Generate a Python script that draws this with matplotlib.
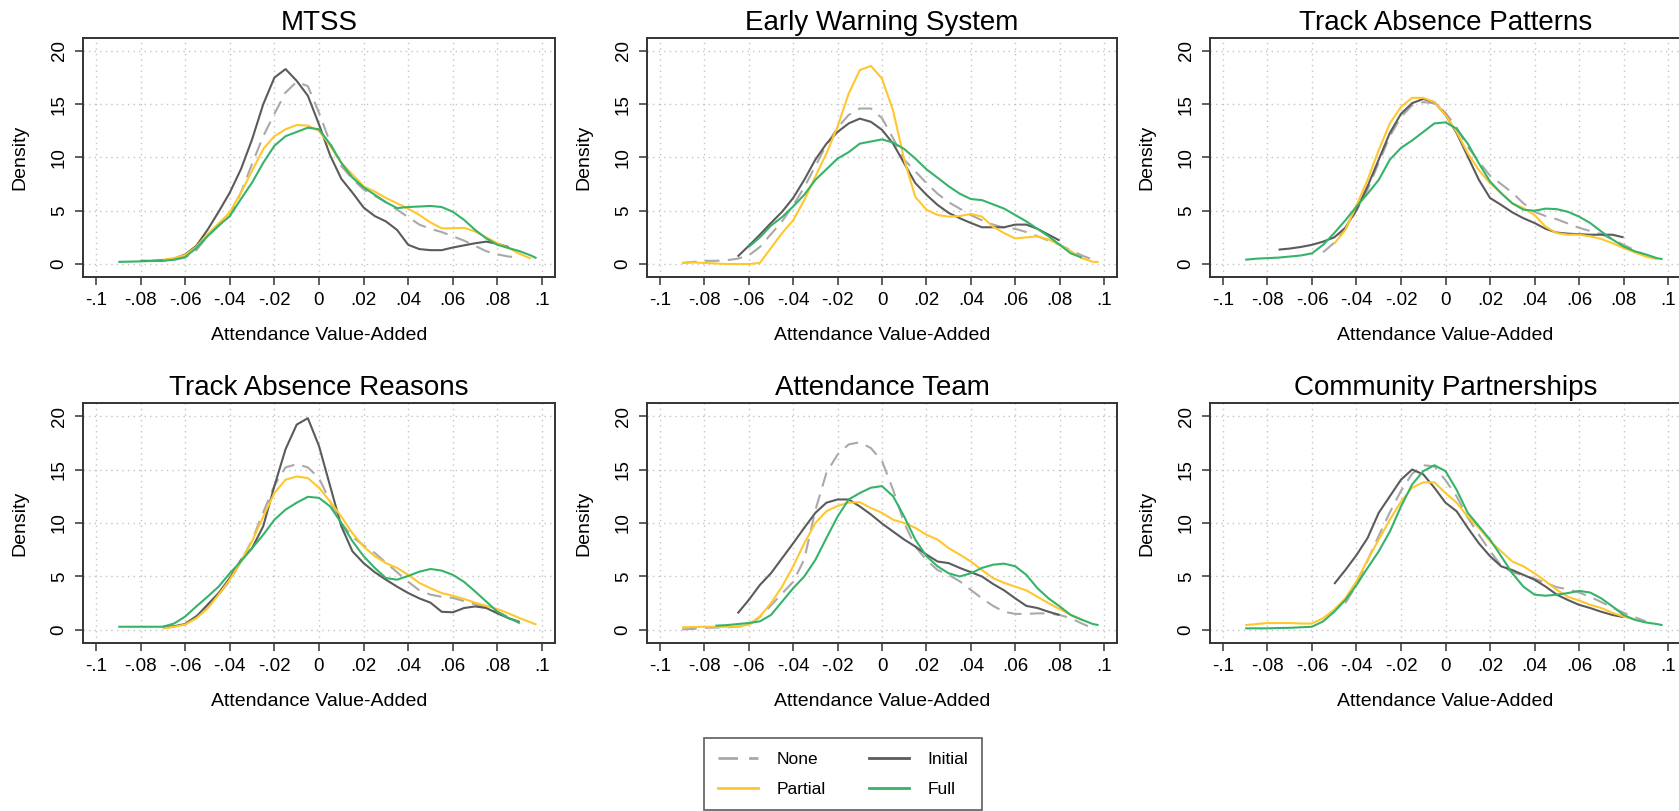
import numpy as np
import matplotlib
matplotlib.use("Agg")
import matplotlib.pyplot as plt
from matplotlib.lines import Line2D

plt.rcParams["font.family"] = ["Liberation Sans", "DejaVu Sans"]

# Attendance value-added grid shared by every density curve (None = outside a curve's support)
GRID = [-0.09, -0.085, -0.08, -0.075, -0.07, -0.065, -0.06, -0.055, -0.05, -0.045,
        -0.04, -0.035, -0.03, -0.025, -0.02, -0.015, -0.01, -0.005, 0.0, 0.005,
        0.01, 0.015, 0.02, 0.025, 0.03, 0.035, 0.04, 0.045, 0.05, 0.055,
        0.06, 0.065, 0.07, 0.075, 0.08, 0.085, 0.09, 0.095, 0.0975]

N = None

MTSS_NONE = [N, N, N, 0.3, 0.3, 0.4, 0.6, 1.3, 2.6, 3.6,
             4.5, 6.7, 9.4, 12.0, 14.1, 16.1, 17.1, 16.7, 14.2, 11.4,
             9.2, 8.0, 7.0, 6.4, 5.8, 5.1, 4.4, 3.7, 3.3, 3.0,
             2.6, 2.2, 1.7, 1.2, 0.9, 0.7, 0.6, N, N]
MTSS_INITIAL = [N, N, 0.3, 0.3, 0.35, 0.5, 0.9, 1.7, 3.2, 4.9,
                6.7, 8.9, 11.7, 15.0, 17.5, 18.3, 17.2, 15.8, 13.1, 10.2,
                8.0, 6.7, 5.3, 4.5, 4.0, 3.2, 1.8, 1.4, 1.3, 1.3,
                1.55, 1.75, 1.95, 2.1, 1.9, 1.6, N, N, N]
MTSS_PARTIAL = [N, N, N, N, 0.4, 0.55, 0.85, 1.6, 2.8, 3.8,
                4.85, 6.7, 8.75, 10.8, 12.0, 12.65, 13.05, 13.0, 12.5, 11.1,
                9.5, 8.4, 7.3, 6.8, 6.2, 5.7, 5.2, 4.6, 3.9, 3.35,
                3.35, 3.4, 3.05, 2.5, 1.95, 1.5, 0.95, 0.5, N]
MTSS_FULL = [0.2, 0.22, 0.25, 0.28, 0.3, 0.4, 0.65, 1.5, 2.6, 3.6,
             4.5, 6.1, 7.65, 9.5, 11.1, 12.0, 12.4, 12.8, 12.65, 11.25,
             9.5, 8.1, 7.2, 6.5, 5.8, 5.25, 5.35, 5.4, 5.45, 5.35,
             4.9, 4.15, 3.2, 2.4, 1.8, 1.5, 1.2, 0.8, 0.55]

EWS_NONE = [0.1, 0.2, 0.3, 0.3, 0.35, 0.5, 0.8, 1.6, 2.8, 4.0,
            5.5, 7.2, 9.2, 11.2, 12.8, 14.0, 14.6, 14.6, 13.7, 11.8,
            9.8, 8.7, 7.6, 6.6, 5.8, 5.2, 4.6, 4.1, 3.7, 3.4,
            3.3, 3.0, 2.6, 2.2, 1.8, 1.3, 0.8, 0.4, N]
EWS_INITIAL = [N, N, N, N, N, 0.7, 1.7, 2.75, 3.85, 4.9,
               6.2, 7.9, 9.8, 11.3, 12.4, 13.2, 13.65, 13.35, 12.6, 11.3,
               9.45, 7.6, 6.5, 5.55, 4.8, 4.3, 3.85, 3.45, 3.45, 3.45,
               3.7, 3.7, 3.3, 2.75, 2.2, N, N, N, N]
EWS_PARTIAL = [0.1, 0.15, 0.1, 0.05, 0.0, 0.0, 0.0, 0.1, 1.5, 2.9,
               4.1, 6.0, 8.2, 10.4, 12.9, 16.0, 18.2, 18.6, 17.4, 14.4,
               9.8, 6.3, 5.1, 4.6, 4.45, 4.5, 4.7, 4.45, 3.5, 2.9,
               2.4, 2.5, 2.6, 2.3, 1.8, 1.2, 0.55, 0.2, 0.2]
EWS_FULL = [N, N, N, N, N, N, 1.6, 2.5, 3.6, 4.4,
            5.4, 6.5, 7.9, 8.9, 9.9, 10.5, 11.3, 11.5, 11.7, 11.4,
            10.8, 9.9, 8.9, 8.1, 7.3, 6.6, 6.1, 6.0, 5.6, 5.2,
            4.6, 4.0, 3.3, 2.6, 1.8, 1.0, 0.6, N, N]

TAP_NONE = [N, N, N, N, N, N, N, 1.1, 2.0, 3.3,
            5.0, 7.0, 9.5, 12.0, 13.8, 14.9, 15.2, 15.1, 14.2, 12.8,
            11.0, 9.6, 8.3, 7.5, 6.7, 5.7, 4.9, 4.5, 4.2, 3.8,
            3.4, 3.1, 2.8, 2.3, 1.8, 1.3, 0.8, N, N]
TAP_INITIAL = [N, N, N, 1.35, 1.45, 1.6, 1.8, 2.1, 2.5, 3.4,
               5.1, 7.3, 9.8, 12.3, 14.1, 15.1, 15.5, 15.2, 14.0, 12.3,
               10.1, 7.9, 6.2, 5.55, 4.85, 4.3, 3.85, 3.3, 2.95, 2.85,
               2.8, 2.75, 2.75, 2.75, 2.5, N, N, N, N]
TAP_PARTIAL = [N, N, N, N, N, N, N, N, 1.9, 3.2,
               5.5, 7.9, 10.7, 13.2, 14.75, 15.6, 15.6, 15.2, 14.0, 12.4,
               10.4, 8.8, 7.6, 6.65, 5.7, 5.25, 4.6, 3.5, 2.9, 2.75,
               2.75, 2.6, 2.35, 1.95, 1.5, 1.1, 0.7, 0.45, N]
TAP_FULL = [0.4, 0.5, 0.55, 0.6, 0.7, 0.8, 1.0, 1.8, 2.9, 4.1,
            5.4, 6.6, 7.9, 9.8, 10.9, 11.6, 12.4, 13.2, 13.3, 12.7,
            11.3, 9.45, 7.75, 6.65, 5.7, 5.1, 5.0, 5.2, 5.15, 4.9,
            4.45, 3.85, 3.05, 2.3, 1.65, 1.2, 0.9, 0.55, 0.45]

TAR_NONE = [N, N, N, N, 0.15, 0.3, 0.6, 1.3, 2.3, 3.3,
            4.6, 6.4, 8.4, 11.0, 13.5, 15.2, 15.5, 15.2, 14.2, 12.0,
            10.0, 8.7, 7.9, 7.2, 6.3, 5.4, 4.5, 3.7, 3.3, 3.1,
            3.0, 2.7, 2.4, 2.1, 1.7, 1.2, 0.6, N, N]
TAR_INITIAL = [N, N, N, N, 0.3, 0.35, 0.55, 1.25, 2.35, 3.45,
               4.85, 6.55, 7.65, 9.7, 13.45, 16.9, 19.2, 19.8, 17.2, 13.45,
               9.7, 7.35, 6.25, 5.4, 4.7, 4.05, 3.45, 2.95, 2.55, 1.7,
               1.65, 2.05, 2.2, 2.05, 1.55, 1.1, 0.75, N, N]
TAR_PARTIAL = [N, N, N, N, 0.15, 0.3, 0.5, 1.1, 2.0, 3.3,
               4.7, 6.4, 8.3, 10.6, 12.8, 14.05, 14.35, 14.2, 13.3, 12.0,
               10.6, 9.05, 7.8, 6.9, 6.25, 5.8, 5.15, 4.4, 3.9, 3.45,
               3.2, 2.9, 2.55, 2.25, 1.95, 1.55, 1.1, 0.7, 0.5]
TAR_FULL = [0.3, 0.3, 0.3, 0.3, 0.3, 0.6, 1.25, 2.2, 3.1, 4.05,
            5.3, 6.4, 7.65, 8.9, 10.3, 11.25, 11.9, 12.45, 12.35, 11.55,
            10.0, 8.3, 6.9, 5.8, 4.85, 4.7, 5.05, 5.45, 5.7, 5.55,
            5.15, 4.5, 3.6, 2.65, 1.7, 1.1, 0.7, N, N]

AT_NONE = [0.05, 0.1, 0.2, 0.22, 0.25, 0.3, 0.45, 1.2, 2.3, 3.4,
           4.5, 6.6, 11.2, 14.7, 16.4, 17.35, 17.55, 17.0, 15.8, 13.1,
           10.0, 7.8, 6.55, 5.6, 5.15, 4.55, 3.75, 2.95, 2.25, 1.7,
           1.5, 1.5, 1.55, 1.55, 1.4, 1.1, 0.6, 0.15, N]
AT_INITIAL = [N, N, N, N, N, 1.55, 2.8, 4.2, 5.3, 6.7,
              8.1, 9.55, 10.95, 11.9, 12.2, 12.2, 11.55, 10.8, 9.95, 9.2,
              8.45, 7.8, 7.05, 6.4, 6.25, 5.8, 5.4, 5.0, 4.3, 3.7,
              2.95, 2.25, 2.05, 1.7, 1.4, N, N, N, N]
AT_PARTIAL = [0.25, 0.28, 0.3, 0.3, 0.3, 0.3, 0.5, 1.25, 2.5, 4.05,
              5.95, 8.1, 10.0, 11.1, 11.6, 11.9, 11.95, 11.4, 10.95, 10.3,
              10.0, 9.55, 8.9, 8.45, 7.65, 7.05, 6.4, 5.6, 4.85, 4.4,
              4.05, 3.7, 3.1, 2.5, 1.95, 1.4, 0.95, N, N]
AT_FULL = [N, N, N, 0.4, 0.45, 0.55, 0.65, 0.8, 1.4, 2.65,
           3.9, 5.0, 6.55, 8.6, 10.6, 12.2, 12.8, 13.3, 13.45, 12.5,
           10.6, 8.45, 6.9, 5.95, 5.3, 5.0, 5.3, 5.8, 6.1, 6.2,
           5.95, 5.15, 3.9, 2.95, 2.2, 1.4, 0.95, 0.55, 0.45]

CP_NONE = [N, N, N, N, N, N, N, N, N, 2.5,
           4.2, 6.5, 8.8, 11.0, 13.0, 14.6, 15.4, 15.3, 14.0, 12.5,
           10.5, 8.9, 7.4, 6.0, 5.4, 5.1, 4.8, 4.4, 4.0, 3.8,
           3.5, 3.1, 2.6, 2.1, 1.6, 1.2, 0.8, N, N]
CP_INITIAL = [N, N, N, N, N, N, N, N, 4.3, 5.6,
              7.0, 8.6, 10.95, 12.5, 14.05, 15.0, 14.55, 13.3, 11.9, 11.1,
              9.55, 8.1, 6.9, 5.95, 5.6, 5.15, 4.7, 4.05, 3.3, 2.8,
              2.35, 2.05, 1.7, 1.4, 1.2, N, N, N, N]
CP_PARTIAL = [0.45, 0.55, 0.65, 0.65, 0.65, 0.6, 0.6, 1.1, 1.9, 2.95,
              4.55, 6.55, 8.45, 10.3, 12.0, 13.3, 13.8, 13.8, 12.8, 11.9,
              10.6, 9.55, 8.3, 7.35, 6.4, 5.95, 5.3, 4.55, 3.75, 3.1,
              2.75, 2.35, 2.05, 1.6, 1.25, 1.0, N, N, N]
CP_FULL = [0.15, 0.15, 0.15, 0.18, 0.2, 0.25, 0.3, 0.8, 1.7, 2.8,
           4.2, 5.8, 7.35, 9.2, 11.55, 13.6, 14.85, 15.4, 14.85, 13.1,
           10.95, 9.7, 8.45, 6.9, 5.3, 4.05, 3.3, 3.2, 3.3, 3.45,
           3.65, 3.5, 2.95, 2.2, 1.4, 0.95, 0.7, 0.55, 0.45]

TITLES = ["MTSS", "Early Warning System", "Track Absence Patterns",
          "Track Absence Reasons", "Attendance Team", "Community Partnerships"]
PANEL_DATA = [
    (MTSS_NONE, MTSS_INITIAL, MTSS_PARTIAL, MTSS_FULL),
    (EWS_NONE, EWS_INITIAL, EWS_PARTIAL, EWS_FULL),
    (TAP_NONE, TAP_INITIAL, TAP_PARTIAL, TAP_FULL),
    (TAR_NONE, TAR_INITIAL, TAR_PARTIAL, TAR_FULL),
    (AT_NONE, AT_INITIAL, AT_PARTIAL, AT_FULL),
    (CP_NONE, CP_INITIAL, CP_PARTIAL, CP_FULL),
]

SERIES = ["None", "Initial", "Partial", "Full"]
COLORS = {"None": "#a9a9a9", "Initial": "#5b5b5b", "Partial": "#ffc72e", "Full": "#36b36b"}
STYLES = {"None": (0, (7, 4)), "Initial": "-", "Partial": "-", "Full": "-"}

X_TICKS = [-0.1, -0.08, -0.06, -0.04, -0.02, 0.0, 0.02, 0.04, 0.06, 0.08, 0.1]
X_TICK_LABELS = ["-.1", "-.08", "-.06", "-.04", "-.02", "0", ".02", ".04", ".06", ".08", ".1"]
Y_TICKS = [0, 5, 10, 15, 20]

W, H = 1679, 811
fig = plt.figure(figsize=(W / 100, H / 100), dpi=100)
fig.patch.set_facecolor("white")

col_left = [83, 647, 1210]
col_width = [472, 470, 471]
row_top = [38, 403]
row_height = [239, 240]

x = np.array(GRID, dtype=float)
spine_color = "#333333"

for k, (title, data) in enumerate(zip(TITLES, PANEL_DATA)):
    r, c = divmod(k, 3)
    left = col_left[c] / W
    bottom = 1 - (row_top[r] + row_height[r]) / H
    ax = fig.add_axes([left, bottom, col_width[c] / W, row_height[r] / H])
    for name, vals in zip(SERIES, data):
        y = np.array([np.nan if v is None else v for v in vals], dtype=float)
        ax.plot(x, y, color=COLORS[name], linestyle=STYLES[name], lw=1.5,
                solid_capstyle="butt", dash_capstyle="butt")
    ax.set_xlim(-0.1058, 0.1058)
    ax.set_ylim(-1.22, 21.22)
    ax.set_xticks(X_TICKS)
    ax.set_xticklabels(X_TICK_LABELS)
    ax.set_yticks(Y_TICKS)
    ax.set_yticklabels([str(t) for t in Y_TICKS])
    ax.tick_params(axis="both", direction="out", length=6, width=1.1,
                   color=spine_color, labelsize=13.5, pad=5)
    ax.tick_params(axis="y", labelrotation=90)
    for lab in ax.get_yticklabels():
        lab.set_va("center")
    ax.grid(True, color="#c4c4c4", linestyle=(0, (1, 3)), lw=1.0)
    ax.set_axisbelow(True)
    for sp in ax.spines.values():
        sp.set_color(spine_color)
        sp.set_linewidth(1.4)
    ax.set_title(title, fontsize=20, pad=6)
    ax.set_xlabel("Attendance Value-Added", fontsize=14, labelpad=13)
    ax.set_ylabel("Density", fontsize=14, labelpad=16)

handles = [Line2D([], [], color=COLORS[s], linestyle=STYLES[s], lw=2) for s in SERIES]
order = [0, 2, 1, 3]
leg = fig.legend([handles[i] for i in order], [SERIES[i] for i in order],
                 ncol=2, loc="upper left", bbox_to_anchor=(704 / W, 1 - 738 / H),
                 frameon=True, fancybox=False, fontsize=12.5, handlelength=2.3,
                 handletextpad=1.1, columnspacing=2.45, labelspacing=0.83,
                 borderpad=0.8, borderaxespad=0)
leg.get_frame().set_edgecolor(spine_color)
leg.get_frame().set_linewidth(1.2)

fig.savefig("out.png", dpi=100, facecolor="white")
